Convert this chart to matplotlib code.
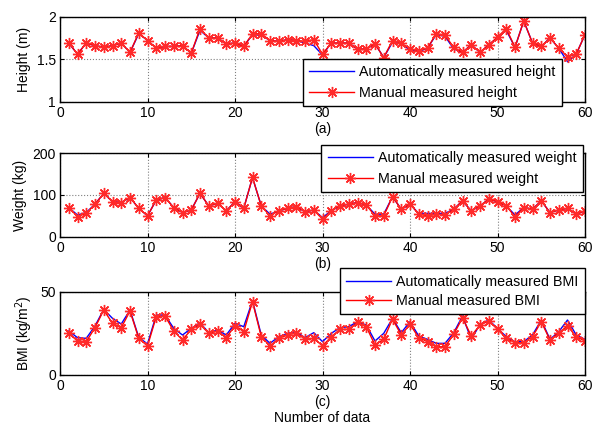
import matplotlib
matplotlib.use("Agg")
import matplotlib.pyplot as plt
import numpy as np

plt.rcParams['font.family'] = ['Liberation Sans', 'DejaVu Sans']
plt.rcParams['font.size'] = 10

x = list(range(1, 61))

height_manual = [1.69, 1.56, 1.69, 1.66, 1.64, 1.66, 1.69, 1.58, 1.81, 1.72,
                 1.63, 1.65, 1.65, 1.66, 1.57, 1.86, 1.75, 1.75, 1.68, 1.69,
                 1.65, 1.80, 1.80, 1.72, 1.71, 1.73, 1.72, 1.71, 1.73, 1.56,
                 1.69, 1.69, 1.69, 1.62, 1.62, 1.68, 1.52, 1.72, 1.69, 1.62,
                 1.60, 1.63, 1.80, 1.78, 1.64, 1.58, 1.67, 1.58, 1.67, 1.76,
                 1.86, 1.64, 1.95, 1.69, 1.65, 1.75, 1.63, 1.53, 1.56, 1.79]
height_auto = [1.69, 1.56, 1.69, 1.66, 1.64, 1.66, 1.69, 1.58, 1.80, 1.72,
               1.63, 1.65, 1.65, 1.66, 1.57, 1.84, 1.75, 1.75, 1.68, 1.69,
               1.65, 1.79, 1.78, 1.72, 1.71, 1.73, 1.72, 1.69, 1.66, 1.55,
               1.69, 1.69, 1.69, 1.62, 1.62, 1.68, 1.52, 1.70, 1.68, 1.61,
               1.59, 1.63, 1.79, 1.77, 1.62, 1.58, 1.67, 1.58, 1.67, 1.75,
               1.84, 1.64, 1.95, 1.69, 1.65, 1.75, 1.63, 1.47, 1.56, 1.79]

weight_manual = [70, 48, 56, 78, 104, 84, 82, 94, 68, 50,
                 88, 94, 70, 58, 64, 104, 74, 80, 62, 84,
                 68, 142, 74, 50, 62, 68, 72, 60, 64, 42,
                 62, 74, 78, 82, 76, 50, 50, 96, 66, 78,
                 54, 50, 54, 52, 66, 86, 62, 74, 90, 84,
                 74, 48, 70, 66, 86, 58, 64, 68, 54, 62]
weight_auto = [70, 52, 58, 78, 104, 84, 82, 94, 68, 50,
               88, 94, 70, 58, 64, 104, 74, 80, 62, 84,
               68, 142, 74, 54, 62, 68, 72, 60, 64, 46,
               62, 74, 78, 82, 76, 54, 54, 96, 66, 78,
               56, 56, 56, 56, 66, 86, 62, 74, 90, 84,
               74, 52, 70, 66, 86, 58, 64, 68, 54, 62]

bmi_manual = [25.0, 20.4, 20.0, 28.4, 39.0, 31.0, 28.4, 38.4, 22.0, 17.4,
              35.0, 35.4, 26.4, 21.0, 27.4, 30.4, 25.0, 26.4, 22.4, 29.6,
              26.0, 44.0, 23.0, 17.4, 22.0, 24.0, 25.4, 21.4, 22.0, 17.4,
              23.0, 27.4, 27.4, 31.6, 29.0, 18.0, 21.4, 33.6, 24.0, 30.4,
              22.4, 20.0, 17.0, 17.0, 24.4, 34.4, 23.4, 30.0, 32.4, 27.4,
              22.0, 19.4, 19.4, 23.0, 32.0, 21.0, 25.4, 29.4, 23.0, 20.4]
bmi_auto = [26.4, 22.4, 22.0, 29.4, 39.4, 34.0, 30.6, 39.0, 22.6, 18.6,
            36.0, 36.0, 28.0, 24.0, 28.0, 31.4, 25.4, 27.0, 24.0, 31.0,
            29.0, 44.6, 24.0, 19.0, 23.0, 25.0, 26.0, 22.4, 25.4, 20.0,
            25.0, 28.4, 29.0, 32.0, 30.0, 20.4, 25.0, 34.0, 25.4, 32.0,
            23.4, 21.4, 19.0, 19.0, 25.4, 35.4, 21.4, 30.4, 33.0, 28.0,
            23.0, 20.0, 20.0, 24.0, 33.0, 21.4, 26.0, 33.0, 24.0, 21.4]

xticks = [0, 10, 20, 30, 40, 50, 60]

W, H = 595, 425
fig = plt.figure(figsize=(W / 100, H / 100), dpi=100)

def px_axes(left, top, right, bottom):
    return fig.add_axes([left / W, 1 - bottom / H, (right - left) / W, (bottom - top) / H])

panels = [
    dict(top=16.7, bottom=101.7, auto=height_auto, man=height_manual, ylim=(1, 2), yticks=[1, 1.5, 2],
         yticklabels=['1', '1.5', '2'], ylabel='Height (m)', xlabel='(a)',
         labels=('Automatically measured height', 'Manual measured height'),
         leg=dict(loc='lower right', bbox_to_anchor=(0.956, -0.05)), lspace=0.45),
    dict(top=153.3, bottom=236.7, auto=weight_auto, man=weight_manual, ylim=(0, 200), yticks=[0, 100, 200],
         yticklabels=['0', '100', '200'], ylabel='Weight (kg)', xlabel='(b)',
         labels=('Automatically measured weight', 'Manual measured weight'),
         leg=dict(loc='upper right', bbox_to_anchor=(0.996, 1.10)), lspace=0.45),
    dict(top=291.7, bottom=375, auto=bmi_auto, man=bmi_manual, ylim=(0, 50), yticks=[0, 50],
         yticklabels=['0', '50'], ylabel='BMI (kg/m$^2$)', xlabel='(c)\nNumber of data',
         labels=('Automatically measured BMI', 'Manual measured BMI'),
         leg=dict(loc='upper right', bbox_to_anchor=(1.0, 1.28)), lspace=0.35),
]

for p in panels:
    ax = px_axes(60, p['top'], 585, p['bottom'])
    ax.plot(x, p['auto'], color='blue', lw=1.0, label=p['labels'][0])
    ax.plot(x, p['man'], color='red', lw=1.0, marker=(8, 2, 0), markersize=8,
            markeredgewidth=1.0, markeredgecolor='#ff2a2a', label=p['labels'][1])
    ax.set_xlim(0, 60)
    ax.set_ylim(*p['ylim'])
    ax.set_xticks(xticks)
    ax.set_yticks(p['yticks'])
    ax.set_yticklabels(p['yticklabels'])
    ax.tick_params(direction='in', length=3, top=True, right=True, labelsize=10, pad=3)
    ax.grid(True, linestyle=':', color='#808080', linewidth=0.8)
    for s in ax.spines.values():
        s.set_linewidth(1.0)
        s.set_color('black')
    ax.set_ylabel(p['ylabel'], fontsize=10, labelpad=4)
    ax.set_xlabel(p['xlabel'], fontsize=10, labelpad=1.5, linespacing=1.12)
    leg = ax.legend(fontsize=10.3, frameon=True, fancybox=False, framealpha=1, edgecolor='black',
                    handlelength=3.15, handletextpad=0.35, borderpad=0.45, labelspacing=p['lspace'],
                    borderaxespad=0, **p['leg'])
    leg.get_frame().set_linewidth(1.0)
    leg.set_zorder(5)

fig.savefig('out.png', dpi=100)
